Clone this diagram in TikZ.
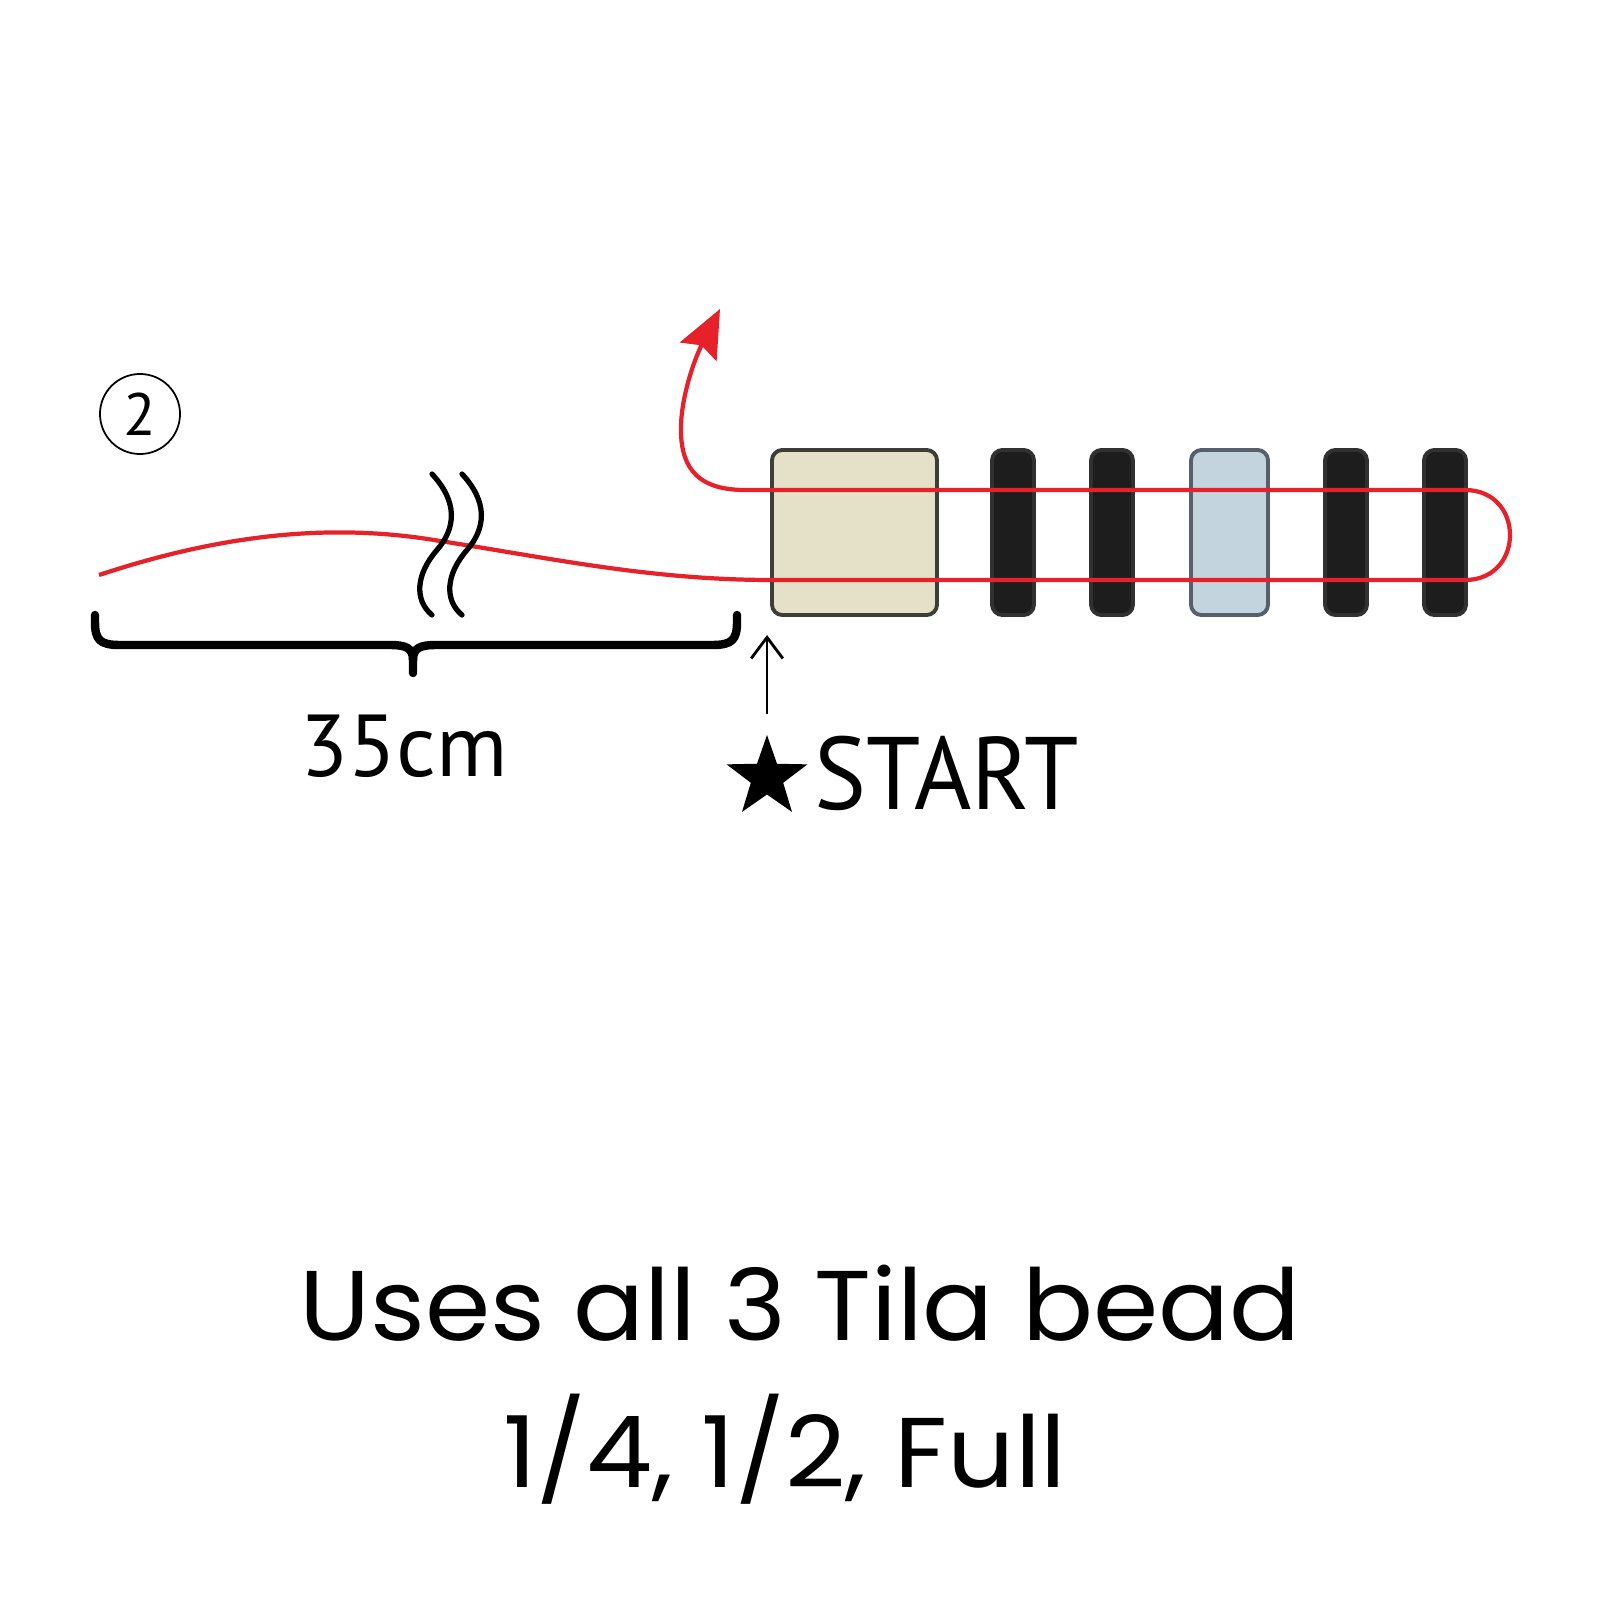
\documentclass[tikz,border=0pt]{standalone}
\usepackage{fontspec}
\newfontfamily\labelfont{PT Sans}
\newfontfamily\startfont[FakeStretch=0.95]{PT Sans}
\newfontfamily\captionfont[FakeStretch=1.06]{Poppins}
\usetikzlibrary{arrows.meta,shapes.geometric}
\definecolor{thread}{HTML}{E62129}
\definecolor{beige}{HTML}{E5E0C8}
\definecolor{beigeedge}{HTML}{3D3E35}
\definecolor{bluebead}{HTML}{C3D4DF}
\definecolor{blueedge}{HTML}{55606A}
\definecolor{blackbead}{HTML}{1D1D1D}
\tikzset{
  bead/.style={rounded corners=3pt, line width=1.1pt, minimum height=1.65cm, inner sep=0pt},
  thin bead/.style={bead, fill=blackbead, draw=blackbead!80!gray, minimum width=0.42cm},
  wire/.style={draw=thread, line width=1.2pt},
  brace/.style={line width=2.4pt, line cap=round, line join=round}
}
\begin{document}
\begin{tikzpicture}[x=0.01cm,y=-0.01cm]
\useasboundingbox (0,0) rectangle (1600,1600);
% step number
\node[draw, circle, line width=0.5pt, minimum size=0.8cm, inner sep=0pt,
  font=\labelfont\fontsize{17pt}{20pt}\selectfont] (num) at (140,414) {2};
% beads
\node[bead, fill=beige, draw=beigeedge, minimum width=1.65cm] (b1) at (854.5,532.5) {};
\node[thin bead] (b2) at (1013,532.5) {};
\node[thin bead] (b3) at (1112,532.5) {};
\node[bead, fill=bluebead, draw=blueedge, minimum width=0.77cm] (b4) at (1229.5,532.5) {};
\node[thin bead] (b5) at (1346,532.5) {};
\node[thin bead] (b6) at (1445,532.5) {};
% thread
\draw[wire] (99,575) .. controls (220,535) and (330,522) .. (440,541)
  .. controls (550,558) and (650,580) .. (772,580) -- (1465,580)
  .. controls (1525,580) and (1525,490) .. (1465,490);
\draw[wire, -{Stealth[length=13.6pt, width=11.6pt, inset=2pt]}] (1465,490) -- (745,490)
  .. controls (692,490) and (680,462) .. (681,425)
  .. controls (682,395) and (694,360) .. (720,309);
% break marks
\foreach \dx in {0,30}
  \draw[line width=1.5pt, line cap=round] (432+\dx,474) .. controls (458+\dx,502) and (456+\dx,528) .. (437+\dx,550)
    .. controls (416+\dx,574) and (414+\dx,600) .. (432+\dx,615);
% brace
\draw[brace] (95,615) -- (95,622) .. controls (95,640) and (100,645) .. (120,645) -- (390,645)
  .. controls (406,645) and (413,648) .. (413,660) -- (413,673);
\draw[brace] (413,660) .. controls (413,648) and (420,645) .. (436,645) -- (712,645)
  .. controls (732,645) and (737,640) .. (737,622) -- (737,615);
\node[font=\labelfont\fontsize{25pt}{30pt}\selectfont, anchor=base] (len) at (404,776) {35cm};
% start mark
\node[star, star points=5, star point ratio=2.5, fill=black, minimum size=0.85cm, inner sep=0pt] (star) at (767,777.5) {};
\node[font=\startfont\fontsize{29.3pt}{34pt}\selectfont, anchor=base west, inner sep=0pt] (start) at (814,809) {START};
\coordinate (arrtip) at (767,635);
\draw[line width=0.8pt, -{Straight Barb[length=6pt, width=9pt]}] (767,714) -- (arrtip);
% caption
\node[font=\captionfont\fontsize{28.2pt}{34pt}\selectfont, anchor=base] (cap1) at (800,1340) {Uses all 3 Tila bead};
\node[font=\captionfont\fontsize{28.2pt}{34pt}\selectfont, anchor=base] (cap2) at (785,1487) {1/4, 1/2, Full};
\end{tikzpicture}
\end{document}
